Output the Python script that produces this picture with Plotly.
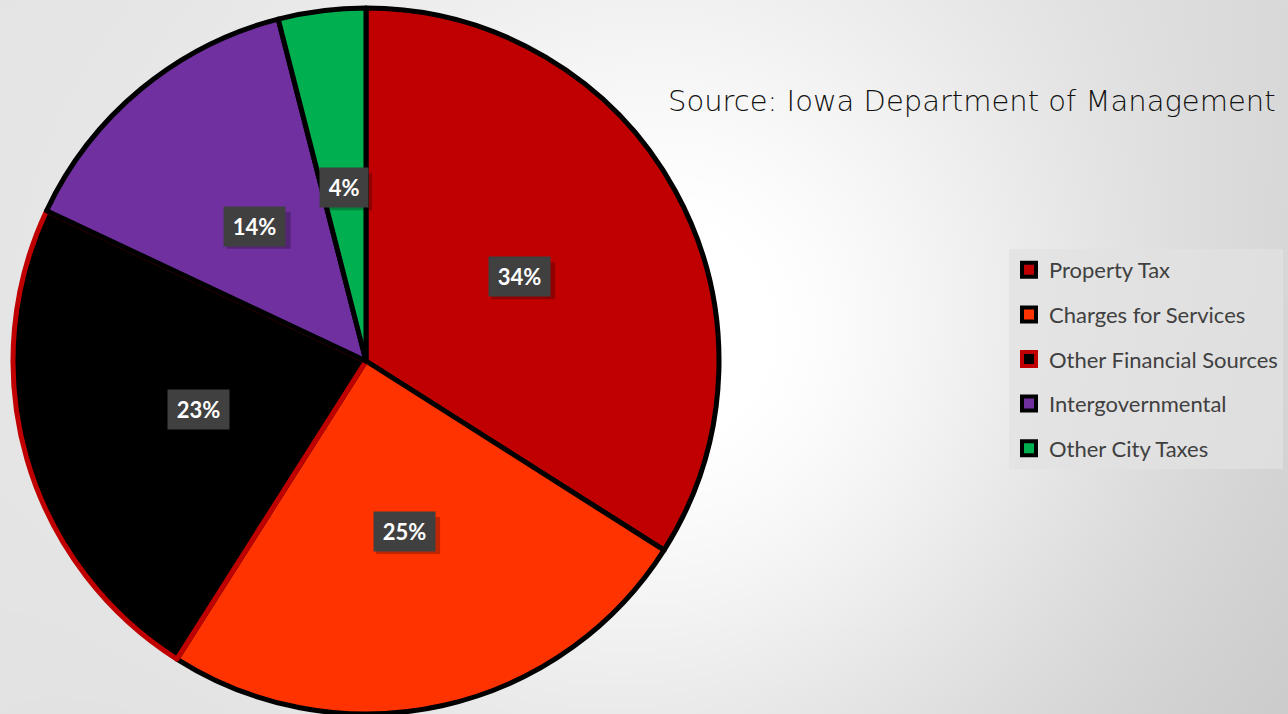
import base64
import struct
import zlib

import numpy as np
import plotly.graph_objects as go

# Revenue shares by source (percent)
categories = ["Property Tax", "Charges for Services", "Other Financial Sources",
              "Intergovernmental", "Other City Taxes"]
shares = [34, 25, 23, 14, 4]
fill_colors = ["#C00000", "#FF3300", "#000000", "#7030A0", "#00B050"]
edge_colors = ["#000000", "#000000", "#C00000", "#000000", "#000000"]
source_note = "Source: Iowa Department of Management"

W, H = 1288, 714


def gradient_png(w, h):
    """Soft gray backdrop with a bright area toward the middle."""
    ys, xs = np.mgrid[0:h, 0:w].astype(float)
    fx, fy = xs / (w - 1), ys / (h - 1)
    tl, tr, bl, br = 227, 213, 225, 200
    base = (tl * (1 - fx) * (1 - fy) + tr * fx * (1 - fy)
            + bl * (1 - fx) * fy + br * fx * fy)
    px, py = fx * W, fy * H
    d2 = (px - 700) ** 2 + (py - 360) ** 2
    v = np.clip(base + 42 * np.exp(-d2 / 450 ** 2), 0, 255).astype(np.uint8)
    raw = b"".join(b"\x00" + v[r].tobytes() for r in range(h))

    def chunk(tag, data):
        c = struct.pack(">I", len(data)) + tag + data
        return c + struct.pack(">I", zlib.crc32(tag + data) & 0xFFFFFFFF)

    png = (b"\x89PNG\r\n\x1a\n"
           + chunk(b"IHDR", struct.pack(">IIBBBBB", w, h, 8, 0, 0, 0, 0))
           + chunk(b"IDAT", zlib.compress(raw, 9))
           + chunk(b"IEND", b""))
    return "data:image/png;base64," + base64.b64encode(png).decode()


# Pie placement in pixels
cx, cy, radius = 366, 361, 353
dom_x = [(cx - radius) / W, (cx + radius) / W]
dom_y = [(H - cy - radius) / H, (H - cy + radius) / H]

fig = go.Figure()
fig.add_trace(go.Pie(
    labels=categories,
    values=shares,
    sort=False,
    direction="clockwise",
    rotation=0,
    marker=dict(colors=fill_colors, line=dict(color=edge_colors, width=5)),
    textinfo="none",
    hoverinfo="label+percent",
    domain=dict(x=dom_x, y=dom_y),
    showlegend=False,
))

# Legend entries, one group each so the gap spaces them out
for name, fc, ec in zip(categories, fill_colors, edge_colors):
    fig.add_trace(go.Scatter(
        x=[None], y=[None], mode="markers", name=name, legendgroup=name,
        marker=dict(symbol="square", size=14, color=fc,
                    line=dict(color=ec, width=4)),
    ))

# Percentage labels at the middle of each wedge, with a soft drop shadow
total = sum(shares)
label_r = 0.495 * radius
start = 0.0
labels, shadows = [], []
for val in shares:
    mid = (start + val / 2) / total * 2 * np.pi
    start += val
    px = cx + label_r * np.sin(mid)
    py = cy - label_r * np.cos(mid)
    txt = f"{round(val / total * 100)}%"
    bw = 16 + 16 * len(txt)
    bh = 37
    shadows.append(dict(
        type="rect", xref="paper", yref="paper", layer="above",
        x0=(px - bw / 2 + 4) / W, x1=(px + bw / 2 + 4) / W,
        y0=1 - (py + bh / 2 + 4) / H, y1=1 - (py - bh / 2 + 4) / H,
        fillcolor="rgba(0,0,0,0.25)", line=dict(width=0),
    ))
    labels.append(dict(
        xref="paper", yref="paper", x=px / W, y=1 - py / H,
        xanchor="center", yanchor="middle", showarrow=False,
        text=f"&#8201;{txt}&#8201;", bgcolor="#404040", borderpad=6,
        font=dict(family="Lato", size=22, color="white", weight="bold"),
    ))

annotations = labels + [dict(
    xref="paper", yref="paper", x=1278 / W, y=1 - 101 / H,
    xanchor="right", yanchor="middle", showarrow=False, text=source_note,
    font=dict(family="DejaVu Sans", size=29, color="#111111", weight=300),
)]

fig.update_layout(
    width=W, height=H,
    margin=dict(l=0, r=0, t=0, b=0),
    paper_bgcolor="rgba(0,0,0,0)",
    plot_bgcolor="rgba(0,0,0,0)",
    xaxis=dict(visible=False),
    yaxis=dict(visible=False),
    images=[dict(source=gradient_png(322, 179), xref="paper", yref="paper",
                 x=0, y=1, sizex=1, sizey=1, sizing="stretch",
                 xanchor="left", yanchor="top", layer="below")],
    shapes=shadows,
    annotations=annotations,
    legend=dict(
        x=1009 / W, xanchor="left", y=1 - 249 / H, yanchor="top",
        bgcolor="rgba(225,225,225,0.75)",
        font=dict(family="Lato", size=22, color="#404040"),
        tracegroupgap=13, itemwidth=30,
    ),
)

fig.write_html("out.html")
